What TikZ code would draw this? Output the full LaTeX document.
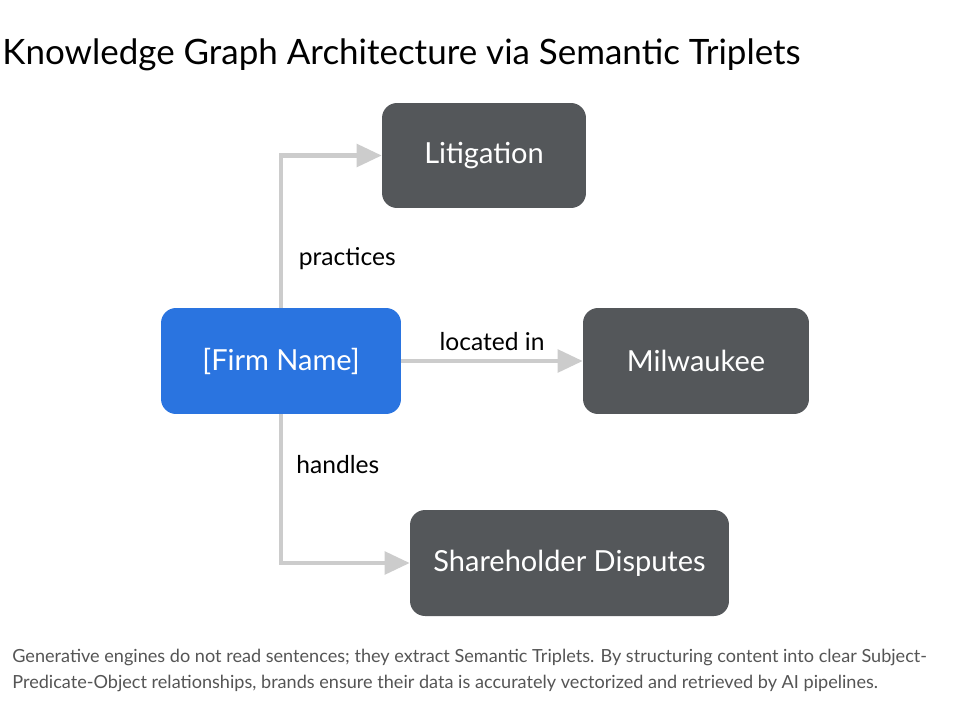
\documentclass[tikz,border=0pt]{standalone}
\usepackage{fontspec}
\setmainfont{Lato}
\usetikzlibrary{arrows.meta}
\definecolor{boxgray}{HTML}{54575A}
\definecolor{firmblue}{HTML}{2A74E0}
\definecolor{linkgray}{HTML}{CCCCCC}
\definecolor{capgray}{HTML}{555555}
\begin{document}
\begin{tikzpicture}[x=0.02cm,y=-0.02cm,
  box/.style={fill=boxgray,text=white,rounded corners=0.3cm,minimum height=2.12cm,font=\fontsize{16.5}{19}\selectfont},
  link/.style={draw=linkgray,line width=2.3pt,-{Triangle[length=0.5cm,width=0.45cm]}},
  lbl/.style={font=\fontsize{14}{16}\selectfont,text=black}]
\useasboundingbox[fill=white] (0,0) rectangle (969,727);
% Titre
\node[anchor=west,inner sep=0pt,font=\fontsize{19.9}{24}\selectfont] (title) at (2,55) {Knowledge Graph Architecture via Semantic Triplets};
% Noeuds du graphe
\node[box,fill=firmblue,minimum width=4.8cm] (firm) at (281,361) {[Firm Name]};
\node[box,minimum width=4.08cm,minimum height=2.1cm] (litig) at (484,155.5) {Litigation};
\node[box,minimum width=4.52cm] (milw) at (696,361) {Milwaukee};
\node[box,minimum width=6.38cm] (share) at (569.5,563) {Shareholder Disputes};
% Relations
\draw[link] (firm.north) |- (litig.west) node[lbl,pos=0.16,right=0.2cm] {practices};
\draw[link] (firm.east) -- (milw.west) node[lbl,midway,above=0.05cm] {located in};
\draw[link] (firm.south) |- (share.west) node[lbl,pos=0.17,right=0.15cm] {handles};
% Legende
\node[anchor=west,align=left,inner sep=0pt,text=capgray,font=\fontsize{10.3}{14.8}\selectfont] (caption) at (12,670)
  {Generative engines do not read sentences; they extract Semantic Triplets. By structuring content into clear Subject-\\
   Predicate-Object relationships, brands ensure their data is accurately vectorized and retrieved by AI pipelines.};
\end{tikzpicture}
\end{document}
